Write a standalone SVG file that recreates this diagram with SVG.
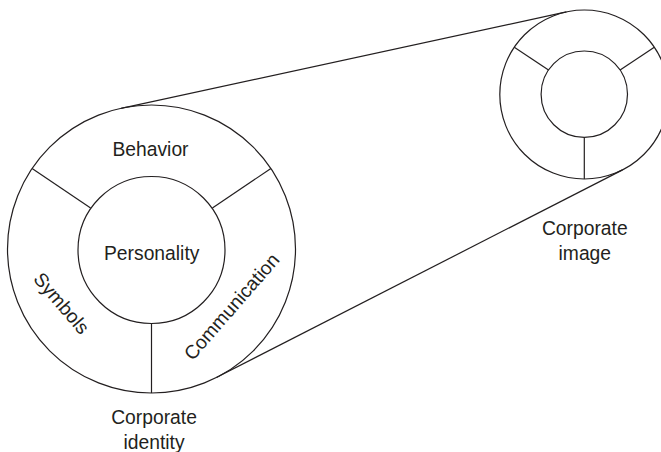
<svg xmlns="http://www.w3.org/2000/svg" width="661" height="452" viewBox="0 0 661 452">
<style>
.ln{fill:none;stroke:#231f20;stroke-width:1.2}
.tx{font-family:"Liberation Sans",Arial,sans-serif;font-size:19.3px;fill:#231f20;text-anchor:middle}
</style>
<rect width="661" height="452" fill="#ffffff"/>
<g id="connectors">
<line class="ln" x1="121.1" y1="108.3" x2="566.4" y2="11.9"/>
<line class="ln" x1="216.8" y1="377.3" x2="622.6" y2="169.9"/>
</g>
<g id="corporate-identity">
<circle class="ln" cx="151.5" cy="249" r="144"/>
<circle class="ln" cx="151.5" cy="250" r="73.5"/>
<line class="ln" x1="32.1" y1="168.5" x2="90.6" y2="207.9"/>
<line class="ln" x1="270.9" y1="168.5" x2="212.4" y2="207.9"/>
<line class="ln" x1="151.5" y1="323.5" x2="151.5" y2="393"/>
<text class="tx" x="150.5" y="155.5">Behavior</text>
<text class="tx" x="151.7" y="260">Personality</text>
<text class="tx" transform="translate(56.5,307.5) rotate(49.5)">Symbols</text>
<text class="tx" transform="translate(236.6,311) rotate(-49)">Communication</text>
<text class="tx" x="154" y="424">Corporate</text>
<text class="tx" x="154" y="448.5">identity</text>
</g>
<g id="corporate-image">
<circle class="ln" cx="584.3" cy="94.5" r="84.5"/>
<circle class="ln" cx="584.3" cy="94.2" r="43.2"/>
<line class="ln" x1="514.3" y1="47.3" x2="548.5" y2="70"/>
<line class="ln" x1="654.3" y1="47.3" x2="620.1" y2="70"/>
<line class="ln" x1="584.3" y1="137.4" x2="584.3" y2="179"/>
<text class="tx" x="584.8" y="235">Corporate</text>
<text class="tx" x="584.8" y="259.5">image</text>
</g>
</svg>
